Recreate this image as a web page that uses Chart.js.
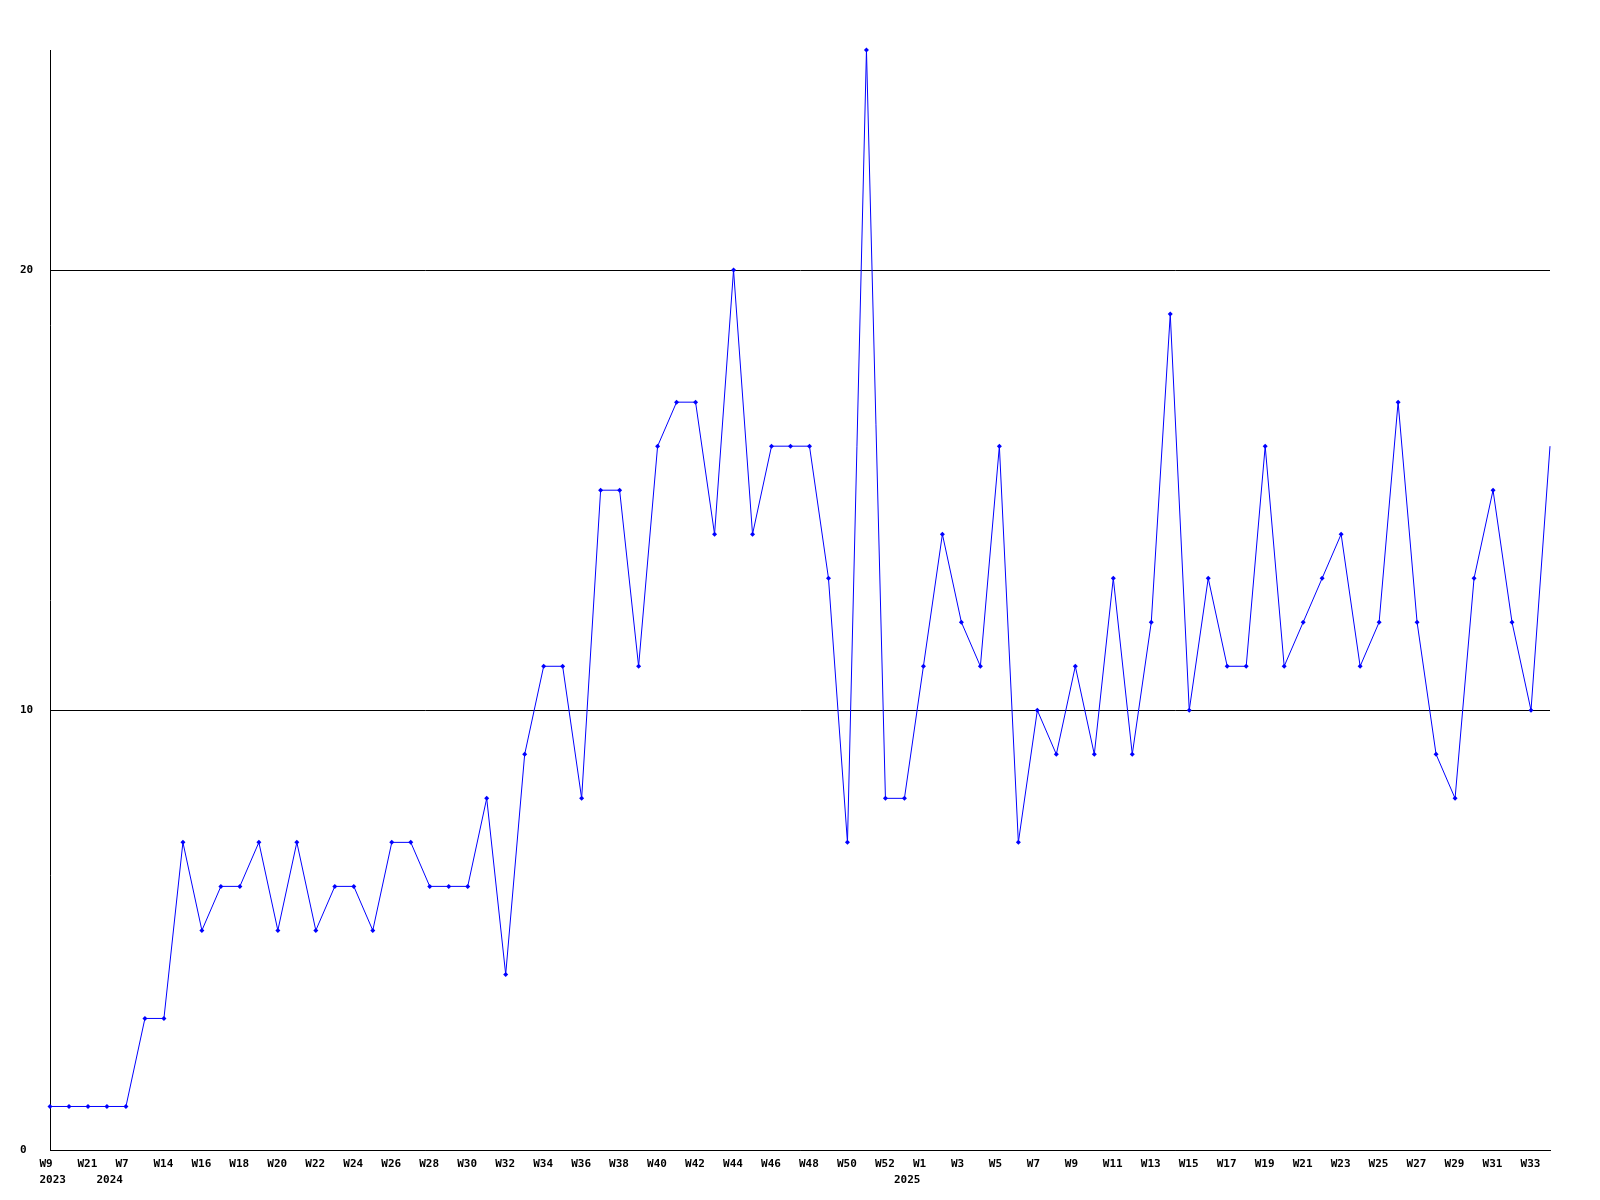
<!DOCTYPE html>
<html>
<head>
<meta charset="utf-8">
<title>Weekly count</title>
<script src="https://cdn.jsdelivr.net/npm/chart.js@4.4.1/dist/chart.umd.min.js"></script>
<style>
  html, body { margin: 0; padding: 0; background: #ffffff; }
  #chart { display: block; }
</style>
</head>
<body>
<canvas id="chart" width="1600" height="1200"></canvas>
<script>
// week labels, one per point
const weeks = [
    'W9', 'W15', 'W21', 'W1', 'W7', 'W10', 'W14', 'W15', 'W16', 'W17',
    'W18', 'W19', 'W20', 'W21', 'W22', 'W23', 'W24', 'W25', 'W26', 'W27',
    'W28', 'W29', 'W30', 'W31', 'W32', 'W33', 'W34', 'W35', 'W36', 'W37',
    'W38', 'W39', 'W40', 'W41', 'W42', 'W43', 'W44', 'W45', 'W46', 'W47',
    'W48', 'W49', 'W50', 'W51', 'W52', 'W0', 'W1', 'W2', 'W3', 'W4',
    'W5', 'W6', 'W7', 'W8', 'W9', 'W10', 'W11', 'W12', 'W13', 'W14',
    'W15', 'W16', 'W17', 'W18', 'W19', 'W20', 'W21', 'W22', 'W23', 'W24',
    'W25', 'W26', 'W27', 'W28', 'W29', 'W30', 'W31', 'W32', 'W33', 'W34'
];

// year shown under the first point of each year
const yearStarts = { 0: '2023', 3: '2024', 45: '2025' };

const counts = [
    1, 1, 1, 1, 1, 3, 3, 7, 5, 6,
    6, 7, 5, 7, 5, 6, 6, 5, 7, 7,
    6, 6, 6, 8, 4, 9, 11, 11, 8, 15,
    15, 11, 16, 17, 17, 14, 20, 14, 16, 16,
    16, 13, 7, 25, 8, 8, 11, 14, 12, 11,
    16, 7, 10, 9, 11, 9, 13, 9, 12, 19,
    10, 13, 11, 11, 16, 11, 12, 13, 14, 11,
    12, 17, 12, 9, 8, 13, 15, 12, 10, 16
];

const yTicks = [0, 10, 20];
const yMax = 25;

const tickFont = { family: "'DejaVu Sans Mono', monospace", size: 11, weight: 'bold', lineHeight: 1.42 };

const ctx = document.getElementById('chart').getContext('2d');

new Chart(ctx, {
    type: 'line',
    data: {
        labels: weeks,
        datasets: [{
            data: counts,
            borderColor: '#0000ff',
            borderWidth: 1,
            backgroundColor: '#0000ff',
            tension: 0,
            fill: false,
            clip: false,
            pointStyle: 'rectRot',
            // the last (current) week has no marker
            pointRadius: c => (c.dataIndex === counts.length - 1 ? 0 : 2.5),
            pointBorderWidth: 0,
            pointBackgroundColor: '#0000ff'
        }]
    },
    options: {
        responsive: false,
        animation: false,
        events: [],
        layout: { padding: { top: 50, left: 20, right: 50, bottom: 0 } },
        plugins: {
            legend: { display: false },
            tooltip: { enabled: false }
        },
        scales: {
            x: {
                type: 'category',
                offset: false,
                grid: { display: false, drawTicks: false },
                border: { display: true, color: '#000000', width: 1 },
                afterFit: s => { s.height = 49.5; },
                ticks: {
                    autoSkip: false,
                    maxRotation: 0,
                    minRotation: 0,
                    align: 'start',
                    labelOffset: -10.5,
                    padding: 6,
                    color: '#000000',
                    font: tickFont,
                    callback: (value, index) => [
                        index % 2 === 0 ? weeks[index] : '',
                        yearStarts[index] || ''
                    ]
                }
            },
            y: {
                min: 0,
                max: yMax,
                grid: { color: '#000000', lineWidth: 1, drawTicks: false },
                border: { display: true, color: '#000000', width: 1 },
                afterFit: s => { s.width = 30; },
                afterBuildTicks: s => { s.ticks = yTicks.map(v => ({ value: v })); },
                ticks: {
                    crossAlign: 'far',
                    padding: 17,
                    color: '#000000',
                    font: tickFont
                }
            }
        }
    }
});
</script>
</body>
</html>
